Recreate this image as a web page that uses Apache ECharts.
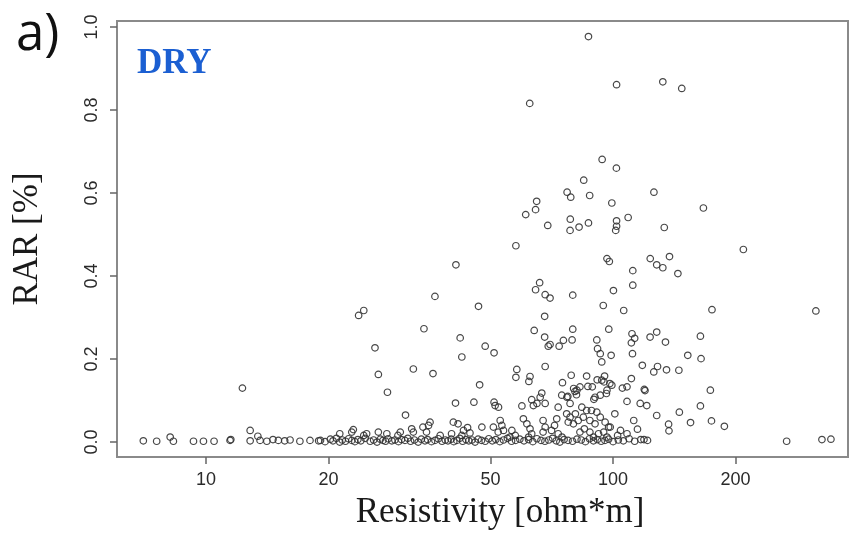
<!DOCTYPE html>
<html>
<head>
<meta charset="utf-8">
<script src="https://cdn.jsdelivr.net/npm/echarts@6/dist/echarts.min.js"></script>
<style>
html,body{margin:0;padding:0;background:#fff;}
#chart{width:851px;height:536px;}
</style>
</head>
<body>
<div id="chart"></div>
<script>
// Resistivity [ohm*m] and RAR [%] — paired values
const resistivity = [
  87,102,132.5,147.5,62.4,
  94,101.9,84.7,77.1,78.7,87.6,126,
  64.9,64.5,61,99.3,166.7,69.1,78.5,78.4,82.5,87,102,102,101.5,108.9,133.6,
  57.7,209,96.6,97.9,123.4,137.6,128,132.5,144.3,111.8,41.1,
  111.8,100.2,79.6,70,66,64.5,68.1,36.5,
  94.6,106.2,175,315,23.7,24.4,46.7,67.9,
  79.6,97.6,111.3,113,110.9,123.3,128,134.5,163.9,75.5,73.7,79.3,70,91.2,34.3,42.1,48.5,64,67.9,69.3,26,
  91.6,93,93.8,98.9,111.6,152.6,164.5,42.5,51,
  118,125.9,128.6,135.3,145.1,68.1,58,32.3,36.1,26.5,
  78.9,86.1,75.1,95.3,95,98.2,93.8,91.4,110.9,57.7,62.5,62.1,
  108.2,105.4,119.3,119.8,173.4,12.28,47,
  82.9,86.7,88.9,80.6,96.6,96.3,99.3,81.5,80,
  27.9,77.4,81.3,90.3,74.8,77,93,66.8,66.2,
  89.7,108.2,116.6,121,163.9,41,45.5,78.4,68.1,63.1,63.7,65,59.7,51,52.3,51.3,73.3,83.8,
  88.5,91.2,86.1,101,128,145.5,30.9,
  174.5,155,136.9,112.4,40.5,35.5,35.2,34.1,41.6,47.6,43.9,187.7,
  137.2,114.8,32,32.3,23,22.8,21.3,26.5,27.8,30,37.6,42.9,12.83,13.4,
  24.8,24.4,29.6,34.8,40.1,42.5,44.5,
  76.9,78.4,80.8,82.1,84.5,87.7,90.3,93,95.6,97.5,94.8,92.1,89.5,87.7,85,82.9,79.9,77.6,
  72.7,71.8,70.6,73.3,74.9,67.3,68.1,67.3,60.2,61.4,62.5,63.1,62,52.8,53.3,53.8,52.2,50.8,56.4,57.5,55.8,
  98.4,104.3,108.2,102.6,96.6,119.1,
  267,326,343,
  7.01,7.56,8.16,8.31,9.31,9.85,10.46,11.45,11.5,12.83,13.57,14.1,14.6,15.05,15.6,16.08,17,18,18.9,
  19.1,19.6,20.2,20.5,20.9,21.3,21.6,22,22.4,22.8,23.2,23.6,24,24.6,25.3,25.8,26.3,26.8,27.2,27.6,
  28,28.6,29.1,29.7,30.2,30.8,31.3,31.8,32.5,33.2,33.8,34.5,35,35.8,36.5,37.2,38,38.7,39.3,40,
  40.6,41.3,42,42.7,43.5,44.2,45,45.8,46.6,47.5,48.5,49.5,50.5,51.5,52.7,53.8,55,56.3,57.6,59,
  60.4,62,63.5,65,66.5,68,69.5,71,72.5,74,75.8,77.5,79.5,81.5,83.5,85.5,87.5,89.5,91.5,93.5,
  95.5,97.5,100,103,106,109.5,113,117,121.5
];
const rar = [
  0.977,0.861,0.868,0.852,0.816,
  0.681,0.660,0.631,0.602,0.590,0.594,0.602,
  0.580,0.560,0.548,0.576,0.564,0.522,0.537,0.510,0.518,0.528,0.533,0.520,0.510,0.541,0.517,
  0.473,0.464,0.442,0.435,0.442,0.447,0.427,0.420,0.406,0.413,0.427,
  0.378,0.365,0.354,0.347,0.384,0.367,0.355,0.351,
  0.329,0.317,0.319,0.316,0.305,0.317,0.327,0.303,
  0.272,0.272,0.261,0.250,0.239,0.253,0.265,0.241,0.255,0.245,0.231,0.246,0.235,0.246,0.273,0.251,0.231,0.269,0.253,0.231,0.227,
  0.225,0.213,0.193,0.209,0.213,0.209,0.201,0.205,0.215,
  0.185,0.169,0.182,0.174,0.173,0.182,0.175,0.176,0.165,0.163,
  0.161,0.159,0.143,0.159,0.145,0.141,0.149,0.150,0.153,0.156,0.158,0.146,
  0.133,0.130,0.127,0.124,0.125,0.130,0.138,
  0.133,0.134,0.133,0.122,0.125,0.117,0.137,0.125,0.129,
  0.120,0.110,0.114,0.108,0.113,0.108,0.113,0.118,0.108,
  0.103,0.098,0.093,0.088,0.087,0.094,0.096,0.093,0.093,0.102,0.088,0.093,0.087,0.096,0.084,0.088,0.084,0.084,
  0.076,0.072,0.076,0.068,0.064,0.072,0.065,
  0.051,0.047,0.043,0.052,0.048,0.048,0.040,0.036,0.044,0.036,0.035,0.038,
  0.027,0.031,0.032,0.024,0.030,0.024,0.020,0.024,0.020,0.024,0.016,0.028,0.028,0.014,
  0.020,0.016,0.016,0.024,0.020,0.016,0.022,
  0.068,0.060,0.068,0.052,0.060,0.052,0.044,0.060,0.048,0.036,0.024,0.020,0.012,0.024,0.032,0.024,0.044,0.048,
  0.056,0.040,0.028,0.020,0.012,0.052,0.036,0.024,0.056,0.044,0.032,0.020,0.012,0.052,0.040,0.028,0.024,0.036,0.028,0.016,0.012,
  0.036,0.028,0.020,0.016,0.012,0.006,
  0.002,0.006,0.007,
  0.003,0.002,0.012,0.002,0.002,0.002,0.002,0.004,0.006,0.003,0.004,0.002,0.006,0.004,0.003,0.005,0.002,0.004,0.003,
  0.004,0.001,0.007,0.003,0.009,0.000,0.005,0.002,0.008,0.004,0.001,0.006,0.003,0.009,0.002,0.005,0.000,0.007,0.004,0.002,
  0.008,0.003,0.005,0.001,0.006,0.004,0.009,0.002,0.005,0.000,0.007,0.003,0.006,0.001,0.004,0.008,0.002,0.005,0.003,0.007,
  0.001,0.004,0.009,0.002,0.006,0.003,0.005,0.000,0.007,0.004,0.002,0.008,0.003,0.006,0.001,0.005,0.009,0.002,0.004,0.007,
  0.003,0.006,0.001,0.008,0.004,0.002,0.005,0.009,0.003,0.000,0.006,0.004,0.002,0.007,0.005,0.001,0.008,0.003,0.006,0.002,
  0.004,0.007,0.001,0.005,0.003,0.008,0.002,0.006,0.004
];
const xTicks = [10, 20, 50, 100, 200];
const yTicks = [0, 0.2, 0.4, 0.6, 0.8, 1.0];

const points = resistivity.map((v, i) => [v, rar[i]]);

const chart = echarts.init(document.getElementById('chart'), null, {renderer: 'canvas'});
chart.setOption({
  animation: false,
  backgroundColor: '#ffffff',
  grid: {
    left: 117, top: 21, width: 731, height: 436,
    show: true, borderColor: '#8a8a8a', borderWidth: 2, backgroundColor: 'transparent'
  },
  xAxis: {
    type: 'log', logBase: 10, min: 6.04, max: 377.8,
    position: 'bottom',
    axisLine: {show: true, onZero: false, lineStyle: {color: '#8a8a8a', width: 2}},
    splitLine: {show: false},
    minorTick: {show: false},
    axisTick: {show: true, inside: false, length: 7, customValues: xTicks,
      lineStyle: {color: '#666', width: 1.5}},
    axisLabel: {show: true, customValues: xTicks, margin: 14,
      fontFamily: 'Liberation Sans', fontSize: 18, color: '#2a2a2a',
      formatter: v => String(Math.round(v))},
    name: 'Resistivity [ohm*m]', nameLocation: 'middle', nameGap: 38,
    nameTextStyle: {fontFamily: 'Liberation Serif', fontSize: 35, color: '#1a1a1a', padding: [0, 0, 0, 35]}
  },
  yAxis: {
    type: 'value', min: -0.036, max: 1.0145,
    position: 'left',
    axisLine: {show: true, onZero: false, lineStyle: {color: '#8a8a8a', width: 2}},
    splitLine: {show: false},
    axisTick: {show: true, inside: false, length: 7, customValues: yTicks,
      lineStyle: {color: '#666', width: 1.5}},
    axisLabel: {show: true, customValues: yTicks, rotate: 90, margin: 16,
      fontFamily: 'Liberation Sans', fontSize: 18, color: '#2a2a2a',
      formatter: v => v.toFixed(1)},
    name: 'RAR [%]', nameLocation: 'middle', nameRotate: 90, nameGap: 72,
    nameTextStyle: {fontFamily: 'Liberation Serif', fontSize: 35, color: '#1a1a1a'}
  },
  series: [{
    type: 'scatter',
    data: points,
    symbol: 'circle',
    symbolSize: 6.5,
    itemStyle: {color: 'rgba(0,0,0,0)', borderColor: '#333', borderWidth: 1.2, opacity: 0.9},
    emphasis: {disabled: true}
  }],
  graphic: [
    {type: 'text', left: 16, top: 10, style: {text: 'a)', font: '51px "Open Sans"', fill: '#111'}},
    {type: 'text', left: 137, top: 46, style: {text: 'DRY', font: 'bold 35px "Liberation Serif"', fill: '#1b5fd2'}}
  ]
});
</script>
</body>
</html>
